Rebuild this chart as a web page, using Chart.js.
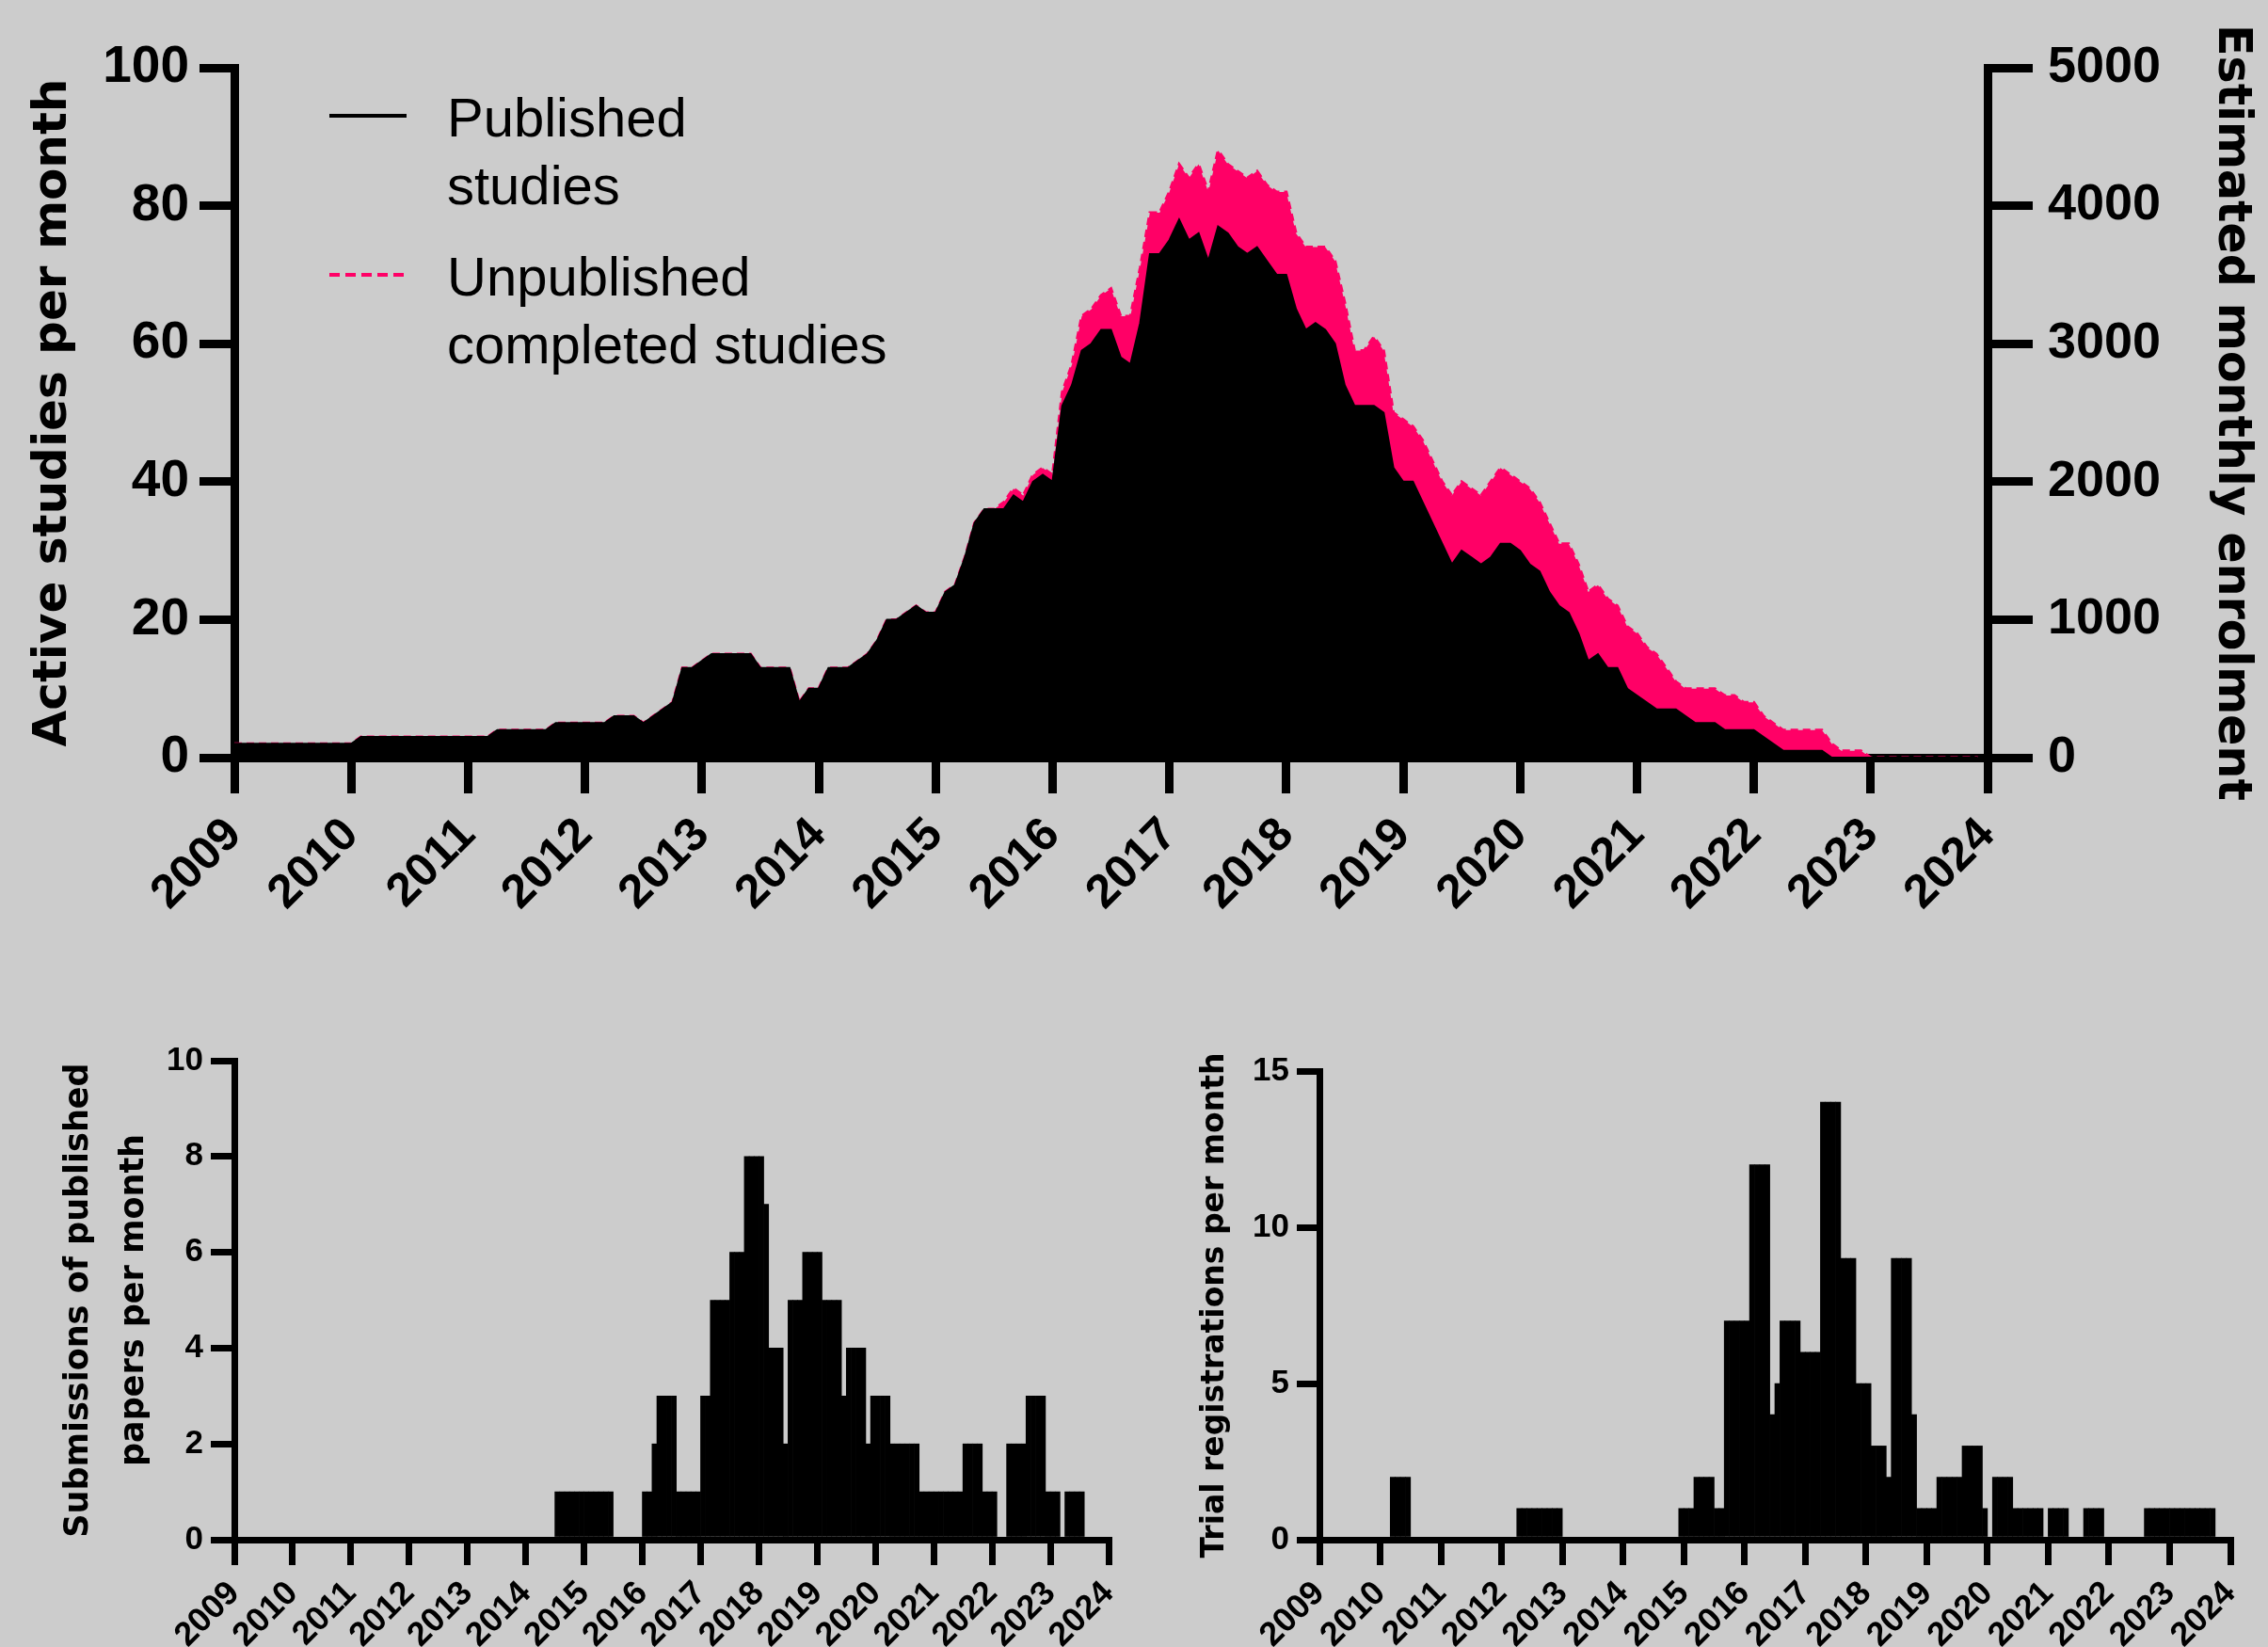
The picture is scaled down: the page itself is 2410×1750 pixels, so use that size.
<!DOCTYPE html>
<html>
<head>
<meta charset="utf-8">
<script src="https://cdn.jsdelivr.net/npm/chart.js@4.4.1/dist/chart.umd.min.js"></script>
<style>
  html, body { margin: 0; padding: 0; background: #cccccc; width: 2410px; height: 1750px; overflow: hidden; }
  canvas { position: absolute; }
</style>
</head>
<body>
<canvas id="topChart" width="2410" height="1010" style="left:0px;top:0px"></canvas>
<canvas id="subChart" width="1230" height="690" style="left:0px;top:1060px"></canvas>
<canvas id="regChart" width="1180" height="690" style="left:1230px;top:1060px"></canvas>
<script>
// ---------------- DATA ----------------
const START_YEAR = 2009;
const yearTicks = [2009, 2010, 2011, 2012, 2013, 2014, 2015, 2016, 2017, 2018, 2019, 2020, 2021, 2022, 2023, 2024];
const activeTicks = [0, 20, 40, 60, 80, 100];
const enrolmentTicks = [0, 1000, 2000, 3000, 4000, 5000];
const submissionTicks = [0, 2, 4, 6, 8, 10];
const registrationTicks = [0, 5, 10, 15];

// Active studies per month (monthly, Jan 2009 .. Dec 2023)
const publishedStudies = [
  2,2,2,2,2,2,2,2,2,2,2,2,          // 2009
  2,3,3,3,3,3,3,3,3,3,3,3,          // 2010
  3,3,3,4,4,4,4,4,4,5,5,5,          // 2011
  5,5,5,6,6,6,5,6,7,8,13,13,        // 2012
  14,15,15,15,15,15,13,13,13,13,8,10, // 2013
  10,13,13,13,14,15,17,20,20,21,22,21, // 2014
  21,24,25,29,34,36,36,36,38,37,40,41, // 2015
  40,51,54,59,60,62,62,58,57,63,73,73, // 2016
  75,78,75,76,72,77,76,74,73,74,72,70, // 2017
  70,65,62,63,62,60,54,51,51,51,50,42, // 2018
  40,40,37,34,31,28,30,29,28,29,31,31, // 2019
  30,28,27,24,22,21,18,14,15,13,13,10, // 2020
  9,8,7,7,7,6,5,5,5,4,4,4,          // 2021
  4,3,2,1,1,1,1,1,0,0,0,0,          // 2022
  0,0,0,0,0,0,0,0,0,0,0,0           // 2023
];
const unpublishedCompleted = [
  0,0,0,0,0,0,0,0,0,0,0,0,          // 2009
  0,0,0,0,0,0,0,0,0,0,0,0,          // 2010
  0,0,0,0,0,0,0,0,0,0,0,0,          // 2011
  0,0,0,0,0,0,0,0,0,0,0,0,          // 2012
  0,0,0,0,0,0,0,0,0,0,0,0,          // 2013
  0,0,0,0,0,0,0,0,0,0,0,0,          // 2014
  0,0,0,0,0,0,0,1,1,1,1,1,          // 2015
  1,2,3,5,5,5,6,6,7,8,6,6,          // 2016
  7,8,9,10,10,11,10,11,11,11,11,12, // 2017
  12,11,12,11,12,12,12,8,8,10,9,8,  // 2018
  9,8,9,9,9,10,10,10,10,11,11,10,   // 2019
  10,11,10,10,9,10,10,10,10,10,9,9, // 2020
  9,8,8,6,4,4,5,5,5,5,5,4,          // 2021
  4,3,3,3,3,3,3,3,2,1,1,1,          // 2022
  0,0,0,0,0,0,0,0,0,0,0,0           // 2023
];

// Submissions of published papers per month (Jan 2009 .. Dec 2023)
const submissionsPerMonth = [
  0,0,0,0,0,0,0,0,0,0,0,0,          // 2009
  0,0,0,0,0,0,0,0,0,0,0,0,          // 2010
  0,0,0,0,0,0,0,0,0,0,0,0,          // 2011
  0,0,0,0,0,0,0,0,0,0,0,0,          // 2012
  0,0,0,0,0,0,0,0,0,0,0,0,          // 2013
  0,0,0,0,0,0,1,1,1,1,1,1,          // 2014
  1,1,1,1,1,1,0,0,0,0,0,0,          // 2015
  1,1,2,3,3,3,3,1,1,1,1,1,          // 2016
  3,3,5,5,5,5,6,6,6,8,8,8,          // 2017
  8,7,4,4,4,2,5,5,5,6,6,6,          // 2018
  6,5,5,5,5,3,4,4,4,4,2,3,          // 2019
  3,3,3,2,2,2,2,2,2,1,1,1,          // 2020
  1,1,1,1,1,1,2,2,2,2,1,1,          // 2021
  1,0,0,2,2,2,2,3,3,3,3,1,          // 2022
  1,1,0,1,1,1,1,0,0,0,0,0           // 2023
];

// Trial registrations per month (Jan 2009 .. Dec 2023)
const registrationsPerMonth = [
  0,0,0,0,0,0,0,0,0,0,0,0,          // 2009
  0,0,2,2,2,2,0,0,0,0,0,0,          // 2010
  0,0,0,0,0,0,0,0,0,0,0,0,          // 2011
  0,0,0,1,1,1,1,1,1,1,1,1,          // 2012
  0,0,0,0,0,0,0,0,0,0,0,0,          // 2013
  0,0,0,0,0,0,0,0,0,0,0,1,          // 2014
  1,1,2,2,2,2,1,1,7,7,7,7,          // 2015
  7,12,12,12,12,4,5,7,7,7,7,6,      // 2016
  6,6,6,14,14,14,14,9,9,9,5,5,      // 2017
  5,3,3,3,2,9,9,9,9,4,1,1,          // 2018
  1,1,2,2,2,2,2,3,3,3,3,1,          // 2019
  0,2,2,2,2,1,1,1,1,1,1,0,          // 2020
  1,1,1,1,0,0,0,1,1,1,1,0,          // 2021
  0,0,0,0,0,0,0,1,1,1,1,1,          // 2022
  1,1,1,1,1,1,1,1,1,0,0,0           // 2023
];

const legendEntries = [
  { lines: ['Published', 'studies'], color: '#000000', dash: [] },
  { lines: ['Unpublished', 'completed studies'], color: '#ff0066', dash: [11, 6] }
];

// ---------------- HELPERS ----------------
const TICK_FONT = '"Liberation Sans", Arial, Helvetica, sans-serif';
const TITLE_FONT = '"DejaVu Sans", Verdana, sans-serif';
const PINK = '#ff0066';

const linePoints = arr => arr.map((v, i) => ({ x: START_YEAR + i / 12, y: v }));
const barPoints = arr => arr.map((v, i) => ({ x: START_YEAR + (i + 0.5) / 12, y: v }));
const fixedTicks = list => (scale => { scale.ticks = list.map(v => ({ value: v })); });

function axis(opts) {
  return {
    type: 'linear',
    position: opts.position,
    min: opts.min, max: opts.max,
    stacked: !!opts.stacked,
    offset: false,
    afterBuildTicks: fixedTicks(opts.ticks),
    afterFit: opts.afterFit,
    ticks: {
      autoSkip: false,
      color: '#000',
      padding: opts.pad,
      maxRotation: opts.rot || 0,
      minRotation: opts.rot || 0,
      font: { family: TICK_FONT, size: opts.fontSize, weight: 'bold' },
      callback: v => String(v)
    },
    grid: { display: true, drawOnChartArea: false, drawTicks: true, tickLength: opts.tl, lineWidth: opts.lw, color: '#000', offset: false },
    border: { display: true, width: opts.lw, color: '#000' },
    title: opts.title ? {
      display: true,
      text: opts.title,
      color: '#000',
      font: { family: TITLE_FONT, size: opts.titleSize, weight: 'bold', lineHeight: opts.titleLH || 1.2 },
      padding: { top: opts.titlePad, bottom: 0 }
    } : { display: false }
  };
}

const legendPlugin = {
  id: 'multiLineLegend',
  afterDraw(chart) {
    const ctx = chart.ctx;
    ctx.save();
    const x0 = 350, x1 = 432, tx = 475;
    const itemTop = [123, 292];
    legendEntries.forEach((e, k) => {
      const y = itemTop[k];
      ctx.strokeStyle = e.color;
      ctx.lineWidth = 4;
      ctx.setLineDash(e.dash);
      ctx.beginPath();
      ctx.moveTo(x0, y);
      ctx.lineTo(x1, y);
      ctx.stroke();
      ctx.setLineDash([]);
      ctx.fillStyle = '#000';
      ctx.font = '58px ' + TICK_FONT;
      ctx.textBaseline = 'alphabetic';
      ctx.textAlign = 'left';
      e.lines.forEach((t, j) => ctx.fillText(t, tx, y + 22 + j * 72));
    });
    ctx.restore();
  }
};

Chart.defaults.animation = false;

// ---------------- TOP CHART ----------------
new Chart(document.getElementById('topChart'), {
  type: 'line',
  data: {
    datasets: [
      {
        label: 'Published studies',
        data: linePoints(publishedStudies),
        borderColor: '#000', backgroundColor: '#000', borderWidth: 2,
        fill: 'origin', pointRadius: 0, tension: 0, yAxisID: 'y'
      },
      {
        label: 'Unpublished completed studies',
        data: linePoints(unpublishedCompleted),
        borderColor: PINK, backgroundColor: PINK, borderWidth: 3, borderDash: [8, 5],
        fill: '-1', pointRadius: 0, tension: 0, yAxisID: 'y'
      }
    ]
  },
  options: {
    responsive: false,
    devicePixelRatio: 1,
    layout: { autoPadding: false, padding: { top: 72, left: 0, right: 0, bottom: 0 } },
    plugins: { legend: { display: false }, tooltip: { enabled: false } },
    scales: {
      x: axis({ position: 'bottom', min: 2009, max: 2024, ticks: yearTicks, pad: 15, rot: 45, fontSize: 50, tl: 38, lw: 9,
                afterFit: s => { s.height = 205; } }),
      y: axis({ position: 'left', min: 0, max: 100, stacked: true, ticks: activeTicks, pad: 11, fontSize: 55, tl: 37, lw: 9,
                title: 'Active studies per month', titleSize: 50, titlePad: 27,
                afterFit: s => { s.width = 249; } }),
      y2: axis({ position: 'right', min: 0, max: 5000, ticks: enrolmentTicks, pad: 16, fontSize: 54, tl: 48, lw: 9,
                title: 'Estimated monthly enrolment', titleSize: 49, titlePad: 10,
                afterFit: s => { s.width = 298; } })
    }
  },
  plugins: [legendPlugin]
});

// ---------------- BOTTOM LEFT ----------------
new Chart(document.getElementById('subChart'), {
  type: 'bar',
  data: {
    datasets: [{
      label: 'Submissions of published papers per month',
      data: barPoints(submissionsPerMonth),
      backgroundColor: '#000', borderWidth: 0,
      barPercentage: 1, categoryPercentage: 1
    }]
  },
  options: {
    responsive: false,
    devicePixelRatio: 1,
    layout: { autoPadding: false, padding: { top: 67, left: 0, right: 52, bottom: 0 } },
    plugins: { legend: { display: false }, tooltip: { enabled: false } },
    scales: {
      x: axis({ position: 'bottom', min: 2009, max: 2024, ticks: yearTicks, pad: 9, rot: 45, fontSize: 36, tl: 27, lw: 7,
                afterFit: s => { s.height = 114; } }),
      y: axis({ position: 'left', min: 0, max: 10, ticks: submissionTicks, pad: 8, fontSize: 35, tl: 25, lw: 7,
                title: ['Submissions of published', 'papers per month'], titleSize: 35, titleLH: 1.7, titlePad: 54,
                afterFit: s => { s.width = 249; } })
    }
  }
});

// ---------------- BOTTOM RIGHT ----------------
new Chart(document.getElementById('regChart'), {
  type: 'bar',
  data: {
    datasets: [{
      label: 'Trial registrations per month',
      data: barPoints(registrationsPerMonth),
      backgroundColor: '#000', borderWidth: 0,
      barPercentage: 1, categoryPercentage: 1
    }]
  },
  options: {
    responsive: false,
    devicePixelRatio: 1,
    layout: { autoPadding: false, padding: { top: 78, left: 0, right: 40, bottom: 0 } },
    plugins: { legend: { display: false }, tooltip: { enabled: false } },
    scales: {
      x: axis({ position: 'bottom', min: 2009, max: 2024, ticks: yearTicks, pad: 9, rot: 45, fontSize: 36, tl: 27, lw: 7,
                afterFit: s => { s.height = 114; } }),
      y: axis({ position: 'left', min: 0, max: 15, ticks: registrationTicks, pad: 8, fontSize: 35, tl: 24, lw: 7,
                title: 'Trial registrations per month', titleSize: 33, titlePad: 42,
                afterFit: s => { s.width = 172; } })
    }
  }
});
</script>
</body>
</html>
